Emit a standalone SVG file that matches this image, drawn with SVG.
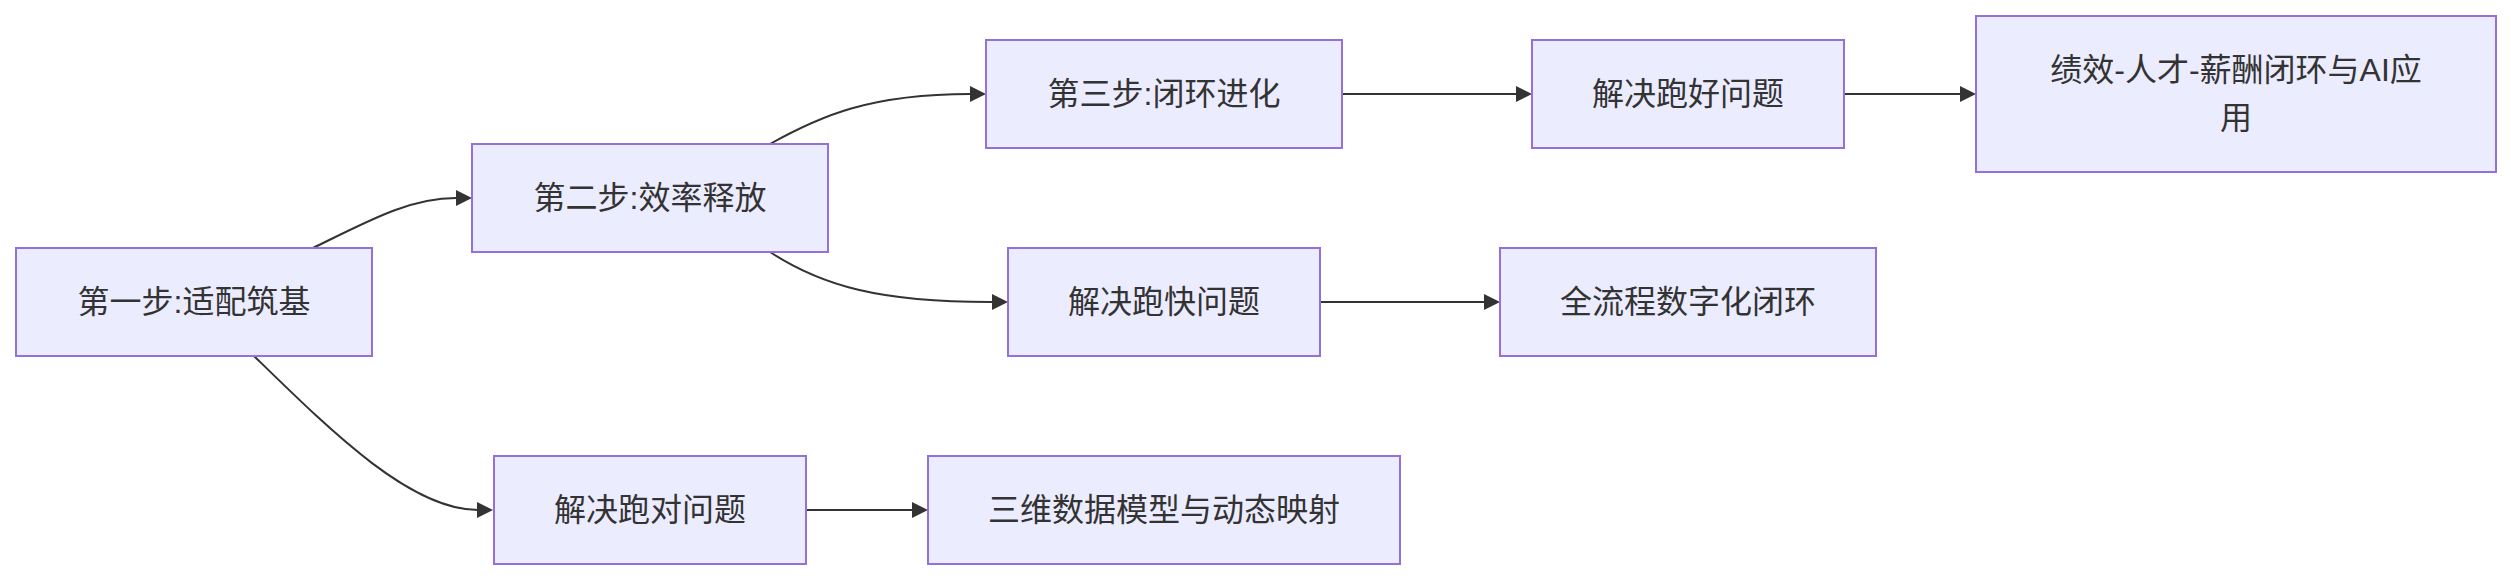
<svg xmlns="http://www.w3.org/2000/svg" width="2511" height="580" viewBox="0 0 2511 580">
<style>
.node rect{fill:#ECECFF;stroke:#9370DB;stroke-width:2}
.node text{font-family:"Liberation Sans","Noto Sans CJK SC",sans-serif;font-size:32px;fill:#333333;text-anchor:middle;dominant-baseline:central}
.edges path{fill:none;stroke:#333333;stroke-width:2}
</style>
<defs>
<marker id="arrow" viewBox="0 0 10 10" refX="5" refY="5" markerUnits="userSpaceOnUse" markerWidth="16" markerHeight="16" orient="auto">
<path d="M0,0 L10,5 L0,10 z" fill="#333333"/>
</marker>
</defs>
<rect width="2511" height="580" fill="#ffffff"/>
<g class="edges">
<path marker-end="url(#arrow)" d="M313,248 C370,220 410,198 456,198 L464,198"/>
<path marker-end="url(#arrow)" d="M254,356 C330,430 410,510 478,510 L485,510"/>
<path marker-end="url(#arrow)" d="M770,144 C820,116 870,94 970,94 L978,94"/>
<path marker-end="url(#arrow)" d="M770,252 C822,286 880,302 990,302 L1000,302"/>
<path marker-end="url(#arrow)" d="M1342,94 L1524,94"/>
<path marker-end="url(#arrow)" d="M1844,94 L1968,94"/>
<path marker-end="url(#arrow)" d="M1320,302 L1492,302"/>
<path marker-end="url(#arrow)" d="M806,510 L920,510"/>
</g>
<g id="nodeA" class="node"><rect x="16" y="248" width="356" height="108"/><text x="194" y="302">第一步:适配筑基</text></g>
<g id="nodeB" class="node"><rect x="472" y="144" width="356" height="108"/><text x="650" y="198">第二步:效率释放</text></g>
<g id="nodeC" class="node"><rect x="986" y="40" width="356" height="108"/><text x="1164" y="94">第三步:闭环进化</text></g>
<g id="nodeGood" class="node"><rect x="1532" y="40" width="312" height="108"/><text x="1688" y="94">解决跑好问题</text></g>
<g id="nodeAI" class="node"><rect x="1976" y="16" width="520" height="156"/><text x="2236" y="70">绩效-人才-薪酬闭环与AI应</text><text x="2236" y="118">用</text></g>
<g id="nodeFast" class="node"><rect x="1008" y="248" width="312" height="108"/><text x="1164" y="302">解决跑快问题</text></g>
<g id="nodeDigital" class="node"><rect x="1500" y="248" width="376" height="108"/><text x="1688" y="302">全流程数字化闭环</text></g>
<g id="nodeRight" class="node"><rect x="494" y="456" width="312" height="108"/><text x="650" y="510">解决跑对问题</text></g>
<g id="nodeModel" class="node"><rect x="928" y="456" width="472" height="108"/><text x="1164" y="510">三维数据模型与动态映射</text></g>
</svg>
